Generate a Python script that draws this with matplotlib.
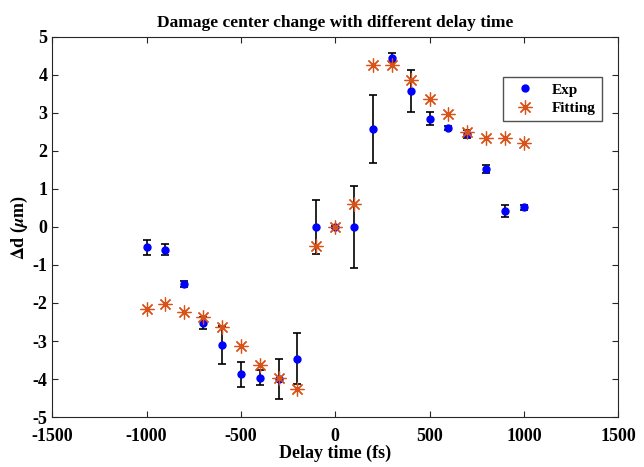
import numpy as np
import matplotlib.pyplot as plt

plt.rcParams['font.family'] = ['Liberation Serif', 'DejaVu Serif']
plt.rcParams['font.weight'] = 'bold'
plt.rcParams['mathtext.fontset'] = 'stix'
plt.rcParams['axes.unicode_minus'] = False

# delai (fs)
delay = [-1000, -900, -800, -700, -600, -500, -400, -300, -200, -100,
         0, 100, 200, 300, 400, 500, 600, 700, 800, 900, 1000]
# mesures
exp_d = [-0.53, -0.6, -1.5, -2.53, -3.1, -3.87, -3.97, -4.0, -3.47, 0.0,
         0.0, 0.0, 2.57, 4.45, 3.57, 2.85, 2.6, 2.45, 1.53, 0.42, 0.52]
exp_err = [0.2, 0.15, 0.07, 0.15, 0.5, 0.33, 0.2, 0.52, 0.67, 0.7,
           0.03, 1.08, 0.9, 0.12, 0.55, 0.17, 0.05, 0.1, 0.1, 0.15, 0.07]
# ajustement
fit_d = [-2.15, -2.03, -2.25, -2.38, -2.63, -3.12, -3.63, -3.97, -4.25, -0.5,
         0.0, 0.6, 4.25, 4.25, 3.87, 3.37, 2.97, 2.5, 2.35, 2.35, 2.22]

fig = plt.figure(figsize=(6.44, 4.67), dpi=100)
ax = fig.add_axes([0.081, 0.107, 0.879, 0.814])

ax.errorbar(delay, exp_d, yerr=exp_err, fmt='none', ecolor='black',
            elinewidth=1.2, capsize=3, capthick=1.2, zorder=2)
ax.plot(delay, exp_d, 'o', color='blue', markersize=5, label='Exp', zorder=3)
ax.plot(delay, fit_d, color='#D95319', markersize=10, label='Fitting',
        zorder=4, marker=(8, 2, 0), markeredgewidth=0.9, linestyle='none')

ax.set_xlim(-1500, 1500)
ax.set_ylim(-5, 5)
ax.set_xticks(np.arange(-1500, 1501, 500))
ax.set_yticks(np.arange(-5, 6, 1))
ax.tick_params(direction='in', top=True, right=True, labelsize=13, length=4,
               color='#262626')
ax.tick_params(axis='x', pad=8)
for sp in ax.spines.values():
    sp.set_color('#262626')
for lab in ax.get_xticklabels() + ax.get_yticklabels():
    lab.set_fontweight('bold')

ax.set_title('Damage center change with different delay time', fontsize=12.5, fontweight='bold', pad=7)
ax.set_xlabel('Delay time (fs)', fontsize=13, fontweight='bold', labelpad=0)
ax.set_ylabel(r'$\Delta$d ($\mu$m)', fontsize=13, fontweight='bold', labelpad=2)

ax.legend(loc='upper right', bbox_to_anchor=(0.985, 0.915), fontsize=11,
          frameon=True, fancybox=False, edgecolor='#262626', handletextpad=0.8,
          borderpad=0.4, labelspacing=0.3)

fig.savefig('out.png', dpi=100)
